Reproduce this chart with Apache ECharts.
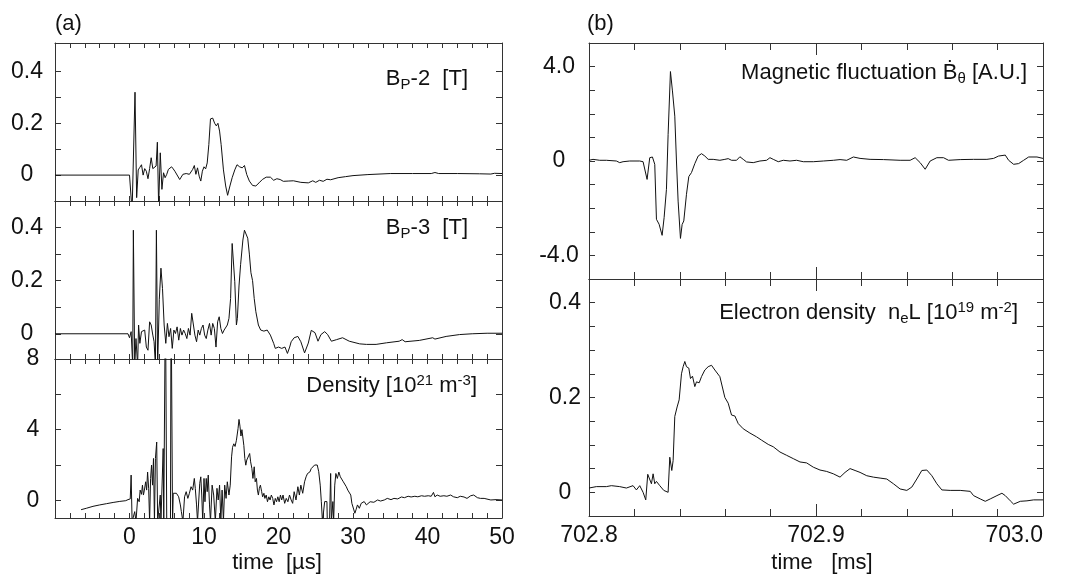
<!DOCTYPE html>
<html><head><meta charset="utf-8">
<script src="https://cdn.jsdelivr.net/npm/echarts@6/dist/echarts.min.js"></script>
<style>html,body{margin:0;padding:0;background:#fff}#c{width:1070px;height:574px}</style>
</head><body><div id="c"></div>
<script>
// ---- data: [time, value] ----
const bp2 = [[-10,0],[0,0],[0.35,-0.14],[0.74,0.32],[0.96,-0.087],[1.17,0.02],[1.39,0.03],[1.61,0.04],[1.83,0],[2.04,0.025],[2.26,0.015],[2.48,-0.014],[2.70,0.025],[2.91,0.067],[3.13,0.025],[3.39,0.032],[3.57,0.035],[3.74,0.127],[3.91,-0.12],[4.13,0.086],[4.35,-0.055],[4.57,0.009],[4.78,-0.01],[5.0,0.003],[5.22,0.022],[5.43,0.016],[5.65,0.032],[5.87,0.024],[6.09,0.015],[6.30,0.009],[6.74,-0.017],[7.17,0.003],[7.61,0.006],[8.04,0.003],[8.48,0.022],[8.70,0.037],[8.91,0.003],[9.13,0.028],[9.35,-0.004],[9.57,-0.023],[9.78,0.015],[10.0,0.032],[10.22,0.024],[10.43,0.047],[10.65,0.118],[10.87,0.217],[11.17,0.22],[11.43,0.20],[11.65,0.19],[11.87,0.20],[12.09,0.17],[12.30,0.118],[12.61,0.02],[12.91,-0.042],[13.17,-0.078],[13.48,-0.042],[13.78,-0.01],[14.13,0.02],[14.43,0.04],[14.78,0.032],[15.13,0.028],[15.43,0.037],[15.74,0.002],[16.09,-0.023],[16.52,-0.04],[16.96,-0.042],[17.39,-0.03],[17.83,-0.017],[18.35,-0.008],[18.91,-0.008],[19.35,-0.02],[19.78,-0.014],[20.22,-0.017],[20.65,-0.024],[21.3,-0.023],[22,-0.022],[23,-0.028],[24,-0.03],[24.6,-0.022],[25,-0.028],[25.5,-0.02],[26,-0.024],[26.5,-0.016],[27,-0.018],[28,-0.01],[29,-0.006],[30,-0.002],[32,0.002],[35,0.006],[38,0.006],[40.5,0.006],[41,0.01],[41.5,0.006],[44,0.006],[47,0.005],[48.5,0.004],[49,0.007],[50,0.006]];

const bp3 = [[-10,0],[-0.2,0],[0,-0.015],[0.22,0.008],[0.43,-0.12],[0.52,0.39],[0.70,-0.12],[0.87,-0.018],[1.09,-0.12],[1.22,0.033],[1.39,-0.036],[1.61,0.008],[1.83,0.001],[2.04,0.014],[2.26,-0.05],[2.48,-0.062],[2.70,0.045],[2.91,0.033],[3.13,-0.005],[3.30,-0.03],[3.48,-0.12],[3.61,0.39],[3.78,-0.12],[4.0,0.13],[4.22,0.247],[4.43,0.17],[4.65,0.033],[4.87,-0.036],[5.09,0.039],[5.30,-0.011],[5.52,0.02],[5.74,-0.055],[5.96,0.014],[6.17,0.001],[6.39,0.026],[6.61,-0.024],[6.83,0.02],[7.04,-0.005],[7.26,0.014],[7.48,0.001],[7.70,-0.018],[7.91,0.02],[8.13,-0.005],[8.35,0.077],[8.57,0.07],[8.78,-0.005],[9.0,-0.03],[9.22,0.014],[9.43,-0.005],[9.65,0.02],[9.87,0.033],[10.09,-0.005],[10.30,-0.018],[10.52,0.014],[10.74,0.039],[10.96,-0.005],[11.17,0.039],[11.39,0.02],[11.61,-0.05],[11.83,0.045],[12.04,0.064],[12.26,0.02],[12.48,0.001],[12.70,0.014],[12.91,0.02],[13.13,0.033],[13.35,0.058],[13.57,0.133],[13.78,0.34],[13.96,0.347],[14.13,0.196],[14.35,0.033],[14.48,0.058],[14.70,0.18],[14.91,0.26],[15.22,0.353],[15.43,0.39],[15.65,0.39],[15.87,0.36],[16.09,0.3],[16.30,0.23],[16.52,0.2],[16.74,0.133],[16.96,0.083],[17.30,0.033],[17.61,0.014],[18.04,0.01],[18.48,0.014],[18.91,-0.005],[19.35,-0.036],[19.57,-0.055],[20.0,-0.05],[20.43,-0.055],[20.87,-0.05],[21.2,-0.074],[21.5,-0.05],[21.7,-0.03],[22.1,-0.015],[22.6,-0.01],[23.0,-0.03],[23.5,-0.072],[24.0,-0.035],[24.4,0.013],[24.9,0.004],[25.3,-0.028],[25.7,-0.003],[26.2,0.008],[26.6,-0.003],[27.1,-0.028],[27.8,-0.022],[28.6,-0.015],[29.5,-0.028],[30.9,-0.038],[31.8,-0.04],[33.1,-0.04],[34.5,-0.034],[36.2,-0.028],[36.6,-0.022],[37,-0.03],[38.9,-0.025],[40.7,-0.015],[41,-0.02],[42.5,-0.01],[44.3,-0.003],[46,0],[48,0.002],[50,0.002]];

const density = [[-6.5,-0.53],[-5.8,-0.45],[-4.9,-0.34],[-4,-0.26],[-3.1,-0.19],[-2.2,-0.12],[-1.3,-0.06],[-0.5,-0.02],[-0.2,0.04],[0,0.04],[0.1,0.08],[0.22,1.43],[0.35,-1.2],[0.52,-1.2],[0.7,-0.64],[0.87,-1.2],[1.09,0.11],[1.30,-0.08],[1.43,0.58],[1.61,0.34],[1.74,0.86],[1.87,0.3],[2.0,0.58],[2.17,1.05],[2.30,0.58],[2.43,1.6],[2.57,0.68],[2.70,-1.2],[2.83,1.24],[2.96,2.0],[3.09,0.86],[3.22,2.37],[3.35,-1.2],[3.48,2.37],[3.65,3.3],[3.78,-1.2],[3.91,-1.2],[4.13,0.3],[4.22,-1.2],[4.35,-1.2],[4.52,2.93],[4.6,-1.2],[4.75,-1.3],[4.82,12],[4.92,12],[5.0,-1.3],[5.5,-1.3],[5.58,12],[5.68,12],[5.78,-1.3],[5.87,0.4],[6.3,0.4],[6.6,0.2],[6.83,-0.26],[6.96,-0.64],[7.17,-1.2],[7.39,0.2],[7.61,0.49],[7.83,0.11],[8.04,0.4],[8.26,0.77],[8.48,0.58],[8.70,1.24],[8.83,0.68],[9.0,-0.26],[9.13,-1.2],[9.3,-1.2],[9.43,0.96],[9.57,1.33],[9.70,0.3],[9.83,-1.2],[10.0,1.24],[10.13,-0.08],[10.30,1.24],[10.43,0.49],[10.57,1.43],[10.74,-0.26],[10.87,-1.2],[11.09,0.86],[11.30,0.3],[11.52,-1.2],[11.74,0.68],[11.91,0.02],[12.09,0.86],[12.26,-1.2],[12.43,0.58],[12.61,-1.2],[12.78,0.86],[12.96,0.11],[13.13,1.05],[13.35,0.3],[13.52,0.86],[13.7,2.46],[13.83,3.0],[14.0,3.2],[14.17,3.05],[14.35,3.4],[14.57,4.06],[14.70,4.58],[14.83,4.2],[14.96,3.64],[15.09,4.0],[15.22,3.9],[15.35,3.1],[15.48,2.37],[15.61,1.99],[15.74,2.28],[15.87,2.18],[16.0,2.37],[16.13,2.65],[16.26,2.18],[16.43,1.8],[16.57,1.24],[16.74,1.9],[16.87,1.05],[17.04,1.24],[17.17,0.58],[17.30,0.3],[17.43,0.68],[17.57,0.86],[17.74,0.49],[17.87,0.2],[18.04,0.4],[18.17,0.11],[18.35,0.3],[18.52,-0.08],[18.70,0.2],[18.87,0.02],[19.04,0.3],[19.22,0.11],[19.39,-0.26],[19.57,0.11],[19.74,-0.08],[19.91,0.2],[20.09,-0.08],[20.26,0.3],[20.43,0.02],[20.61,0.3],[20.83,-0.17],[21.04,0.11],[21.26,-0.08],[21.48,0.3],[21.70,0.02],[21.9,-0.17],[22.1,0.49],[22.35,0.02],[22.6,0.77],[22.8,0.3],[23.0,0.86],[23.25,0.4],[23.5,1.05],[23.7,1.33],[23.9,1.52],[24.2,1.6],[24.4,1.8],[24.6,1.9],[24.85,2.0],[25.1,1.9],[25.2,2.0],[25.4,1.62],[25.6,0.86],[25.75,-0.08],[25.9,-1.2],[26.15,-1.2],[26.2,-0.07],[26.5,-0.07],[26.55,-1.2],[26.85,-1.2],[27.0,1.52],[27.1,-1.2],[27.3,-0.07],[27.4,-1.2],[27.55,0.86],[27.7,1.52],[27.9,1.24],[28.1,1.6],[28.3,1.33],[28.5,1.43],[28.7,1.05],[28.9,0.96],[29.1,0.77],[29.3,0.58],[29.5,0.49],[29.7,0.3],[29.85,-0.17],[30.05,-0.26],[30.25,-0.73],[30.4,-0.54],[30.6,-0.26],[30.85,-0.45],[31.1,-0.17],[31.3,-0.26],[31.5,-0.07],[31.8,-0.26],[32.0,-0.17],[32.3,-0.08],[32.8,-0.11],[33.3,0.02],[33.7,-0.04],[34.2,0.02],[34.6,0.11],[35.1,0.04],[35.5,0.11],[36.0,0.08],[36.5,0.19],[36.9,0.15],[37.4,0.23],[37.8,0.19],[38.3,0.23],[38.7,0.2],[39.2,0.26],[39.6,0.23],[40.1,0.26],[40.5,0.23],[40.8,0.45],[41.0,0.2],[41.3,0.3],[41.7,0.23],[42.2,0.26],[42.6,0.23],[43.1,0.3],[43.5,0.2],[44.0,0.15],[44.4,0.23],[44.9,0.19],[45.3,0.11],[45.8,0.26],[46.2,0.3],[46.7,0.15],[47.1,0.11],[47.6,0.11],[48.5,0.02],[49.2,0.04],[50,0.02]];

const bdot = [[702.8,0.03],[702.80176,0.07],[702.80471,0.03],[702.80765,0.03],[702.81206,0],[702.81353,-0.07],[702.815,-0.03],[702.81794,0],[702.82235,0],[702.82382,-0.03],[702.82559,-0.78],[702.82676,0.14],[702.82794,0.17],[702.82897,-0.14],[702.82971,-2.47],[702.83088,-2.68],[702.83221,-3.15],[702.83309,-2.4],[702.83412,-1.2],[702.83485,1.13],[702.83588,3.79],[702.83676,2.97],[702.83779,1.9],[702.83853,0],[702.83926,-1.7],[702.84029,-3.28],[702.84103,-2.69],[702.84176,-2.54],[702.84294,-1.41],[702.84397,-0.66],[702.84515,-0.49],[702.84662,-0.11],[702.84809,0.21],[702.84956,0.31],[702.85103,0.21],[702.8525,0.07],[702.85471,0.07],[702.85765,0.03],[702.85985,0.07],[702.86132,0.1],[702.86279,0.03],[702.865,0.03],[702.86647,0.18],[702.86794,0.07],[702.86941,-0.04],[702.87235,-0.07],[702.87529,0],[702.87824,0.03],[702.87971,0.14],[702.88118,0.07],[702.88338,-0.03],[702.88559,0.03],[702.88853,0],[702.89147,0.03],[702.89441,-0.03],[702.89882,-0.03],[702.90324,0],[702.90765,0.03],[702.91059,0.06],[702.91353,0.03],[702.91647,0.17],[702.91941,0.11],[702.92382,0.07],[702.92971,0.06],[702.93706,0.03],[702.94147,0.03],[702.94368,0.14],[702.94588,-0.07],[702.94809,-0.35],[702.95029,0],[702.95324,0.14],[702.95618,0.14],[702.95838,0.03],[702.96353,0.06],[702.96941,0.07],[702.97529,0.07],[702.97824,0.11],[702.98044,0.21],[702.98338,0.25],[702.98485,0.03],[702.98706,-0.14],[702.98926,-0.11],[702.99147,0.03],[702.99368,0.17],[702.99735,0.17],[703.0,0.11]];

const neL = [[702.8,0.009],[702.80324,0.012],[702.80765,0.012],[702.80985,0.014],[702.81353,0.012],[702.81647,0.009],[702.81941,0.014],[702.82088,0.005],[702.82235,0.014],[702.82382,0],[702.825,-0.016],[702.82588,0.038],[702.82676,0.038],[702.8275,0.018],[702.82824,0.039],[702.82897,0.018],[702.82971,0.023],[702.83118,0.014],[702.83294,0.004],[702.83485,0],[702.83559,0.074],[702.83647,0.046],[702.83706,0.067],[702.83779,0.16],[702.83882,0.18],[702.83971,0.195],[702.84074,0.25],[702.84147,0.265],[702.84221,0.276],[702.84294,0.265],[702.84397,0.262],[702.84471,0.24],[702.84559,0.245],[702.84662,0.223],[702.84735,0.233],[702.84853,0.231],[702.84956,0.244],[702.85103,0.258],[702.8525,0.265],[702.85397,0.268],[702.85544,0.258],[702.85765,0.244],[702.85985,0.2],[702.86132,0.188],[702.86279,0.163],[702.86426,0.161],[702.86574,0.145],[702.86794,0.134],[702.87088,0.125],[702.87382,0.117],[702.87603,0.11],[702.87897,0.101],[702.88118,0.096],[702.88412,0.085],[702.88706,0.078],[702.89,0.071],[702.89294,0.064],[702.89588,0.062],[702.89882,0.053],[702.90176,0.047],[702.90471,0.044],[702.90765,0.039],[702.91059,0.032],[702.91279,0.042],[702.915,0.05],[702.91721,0.046],[702.91941,0.042],[702.92235,0.035],[702.92529,0.032],[702.92824,0.03],[702.93118,0.028],[702.93412,0.018],[702.93706,0.007],[702.94,0.004],[702.94221,0.011],[702.94441,0.028],[702.94662,0.046],[702.94882,0.047],[702.95103,0.035],[702.95324,0.018],[702.95544,0.005],[702.95912,0.004],[702.96353,0.004],[702.96794,0.002],[702.96941,-0.007],[702.97235,-0.014],[702.97456,-0.019],[702.97676,-0.014],[702.97971,-0.007],[702.98191,-0.002],[702.98338,-0.007],[702.98559,-0.018],[702.98706,-0.025],[702.99,-0.019],[702.99294,-0.018],[702.99588,-0.016],[703.0,-0.016]];

// ---- ticks & labels ----
const leftXTicks = [-8,-6,-4,-2,0,2,4,6,8,10,12,14,16,18,20,22,24,26,28,30,32,34,36,38,40,42,44,46,48];
const leftXLabels = [0,10,20,30,40,50];
const rightXTicks = [702.82,702.84,702.86,702.88,702.92,702.94,702.96,702.98];
const rightXMajorTicks = [702.9];
const rightXLabels = [702.8,702.9,703.0];
const bpYTicks = [0,0.1,0.2,0.3,0.4];
const bpYLabels = [0,0.2,0.4];
const denYTicks = [0,2,4,6];
const denYLabels = [0,4,8];
const bdotYTicks = [-4,-3,-2,-1,0,1,2,3,4];
const bdotYLabels = [-4,0,4];
const neYTicks = [0,0.05,0.1,0.15,0.2,0.25,0.3,0.35,0.4];
const neYLabels = [0,0.2,0.4];

const FONT = "'Liberation Sans', Arial, Helvetica, sans-serif";
const INK = '#111';
const LINE = '#333';

const grids = [
  {left:55, top:43, width:447, height:158},
  {left:55, top:201, width:447, height:158},
  {left:55, top:359, width:447, height:159},
  {left:589, top:43, width:454, height:236},
  {left:589, top:279, width:454, height:237}
];
const xRanges = [[-10,50],[-10,50],[-10,50],[702.8,703.0],[702.8,703.0]];
const yRanges = [[-0.1,0.51],[-0.095,0.5],[-1,8],[-5,5],[-0.05,0.45]];
const yTickSets = [bpYTicks,bpYTicks,denYTicks,bdotYTicks,neYTicks];
const yLabelSets = [bpYLabels,bpYLabels,denYLabels,bdotYLabels,neYLabels];
const yLabelMargin = [28,28,22,30,24];
const yFmt = [
  v => v===0?'0':v.toFixed(1),
  v => v===0?'0':v.toFixed(1),
  v => String(v),
  v => v===0?'0':v.toFixed(1),
  v => v===0?'0':v.toFixed(1)
];

const xAxis = [], yAxis = [];
grids.forEach((g,i) => {
  const isRight = i>=3;
  const ticks = isRight ? rightXTicks : leftXTicks;
  const labelled = (i===2 || i===4);
  const tickLen = isRight ? 7 : 5;
  const base = {type:'value', gridIndex:i, min:xRanges[i][0], max:xRanges[i][1],
    splitLine:{show:false}, axisLine:{show:true,onZero:false,lineStyle:{color:LINE,width:1}}};
  xAxis.push(Object.assign({}, base, {position:'bottom',
    axisTick:{show:true,inside:true,length:tickLen,customValues:ticks,lineStyle:{color:LINE}},
    axisLabel:{show:labelled, customValues: isRight?rightXLabels:leftXLabels, margin:8,
      color:INK, fontSize:23, fontFamily:FONT, alignMaxLabel: isRight?'right':null,
      formatter: isRight ? (v=>Number(v).toFixed(1)) : (v=>String(v))}}));
  xAxis.push(Object.assign({}, base, {position:'top',
    axisTick:{show:true,inside:true,length:tickLen,customValues:ticks,lineStyle:{color:LINE}},
    axisLabel:{show:false}}));
  const ybase = {type:'value', gridIndex:i, min:yRanges[i][0], max:yRanges[i][1],
    splitLine:{show:false}, axisLine:{show:true,onZero:false,lineStyle:{color:LINE,width:1}}};
  yAxis.push(Object.assign({}, ybase, {position:'left',
    axisTick:{show:true,inside:true,length:6,customValues:yTickSets[i],lineStyle:{color:LINE}},
    axisLabel:{show:true, customValues:yLabelSets[i], margin:yLabelMargin[i], align:'center',
      color:INK, fontSize:23, fontFamily:FONT, formatter:yFmt[i]}}));
  yAxis.push(Object.assign({}, ybase, {position:'right',
    axisTick:{show:true,inside:true,length:6,customValues:yTickSets[i],lineStyle:{color:LINE}},
    axisLabel:{show:false}}));
});
// longer ticks at 702.9 on the right-hand panels
[3,4].forEach(i => {
  ['bottom','top'].forEach(pos => {
    xAxis.push({type:'value', gridIndex:i, min:xRanges[i][0], max:xRanges[i][1], position:pos,
      splitLine:{show:false}, axisLine:{show:false,onZero:false},
      axisTick:{show:true,inside:true,length:12,customValues:rightXMajorTicks,lineStyle:{color:LINE}},
      axisLabel:{show:false}});
  });
});

const seriesData = [bp2, bp3, density, bdot, neL];
const series = seriesData.map((d,i) => ({
  type:'line', data:d, xAxisIndex:2*i, yAxisIndex:2*i, showSymbol:false, symbol:'none',
  clip:true, lineStyle:{color:INK, width:1}, animation:false
}));

const rich = {
  n:{fontSize:22, fontFamily:FONT, fill:INK, lineHeight:26},
  sub:{fontSize:15, fontFamily:FONT, fill:INK, lineHeight:16, verticalAlign:'bottom'},
  sup:{fontSize:15, fontFamily:FONT, fill:INK, lineHeight:16, verticalAlign:'top'}
};
function label(x, y, text, align) {
  return {type:'text', x:x, y:y, z:10, style:{text:text, rich:rich, align:align||'right',
    verticalAlign:'middle', fontSize:22, fontFamily:FONT, fill:INK}};
}
const graphic = [
  label(55, 24, '{n|(a)}', 'left'),
  label(587, 24, '{n|(b)}', 'left'),
  label(468, 79, '{n|B}{sub|P}{n|-2  [T]}'),
  label(468, 228, '{n|B}{sub|P}{n|-3  [T]}'),
  label(477, 386, '{n|Density [10}{sup|21}{n| m}{sup|-3}{n|]}'),
  label(1027, 73, '{n|Magnetic fluctuation Ḃ}{sub|θ}{n| [A.U.]}'),
  label(1018, 313, '{n|Electron density  n}{sub|e}{n|L [10}{sup|19}{n| m}{sup|-2}{n|]}'),
  label(277, 563, '{n|time  [µs]}', 'center'),
  label(822, 563, '{n|time   [ms]}', 'center')
];

const chart = echarts.init(document.getElementById('c'), null, {renderer:'canvas'});
chart.setOption({animation:false, backgroundColor:'#fff', grid:grids, xAxis:xAxis, yAxis:yAxis,
  series:series, graphic:graphic});
</script></body></html>
